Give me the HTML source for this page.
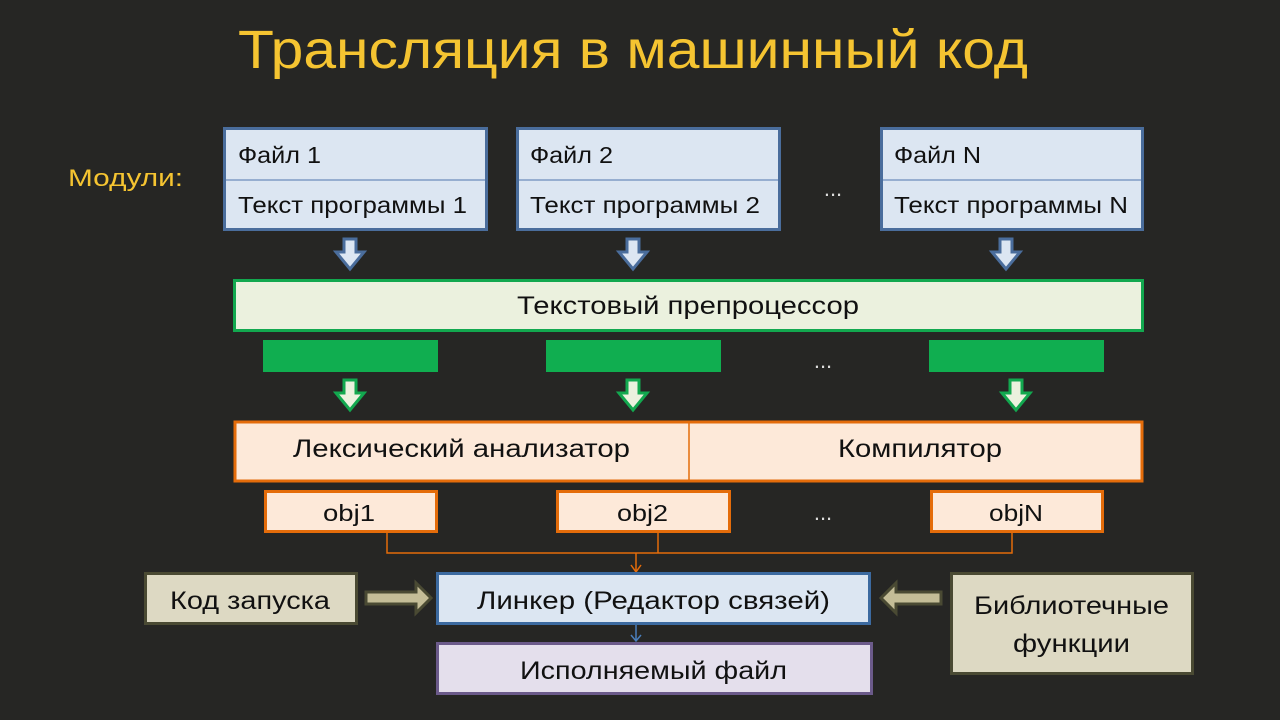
<!DOCTYPE html>
<html><head><meta charset="utf-8"><style>
html,body{margin:0;padding:0;background:#262624;}
svg{display:block;font-family:"Liberation Sans","DejaVu Sans",sans-serif;}
</style></head><body>
<svg width="1280" height="720" viewBox="0 0 1280 720" xmlns="http://www.w3.org/2000/svg">
<rect width="1280" height="720" fill="#262624"/>
<text x="238" y="68" font-size="54" fill="#f5c431" textLength="790" lengthAdjust="spacingAndGlyphs">Трансляция в машинный код</text>
<text x="68" y="186" font-size="24" fill="#f5c431" textLength="115" lengthAdjust="spacingAndGlyphs">Модули:</text>

<g stroke="#4a6d9c" stroke-width="3" fill="#dce6f2">
<rect x="224.5" y="128.5" width="262" height="101"/>
<rect x="517.5" y="128.5" width="262" height="101"/>
<rect x="881.5" y="128.5" width="261" height="101"/>
</g>
<g stroke="#7f9cc4" stroke-width="1.5">
<line x1="226" y1="180" x2="485" y2="180"/><line x1="519" y1="180" x2="778" y2="180"/><line x1="883" y1="180" x2="1141" y2="180"/>
</g>
<g font-size="23" fill="#111" lengthAdjust="spacingAndGlyphs">
<text x="238" y="163" textLength="83" lengthAdjust="spacingAndGlyphs">Файл 1</text><text x="238" y="213" textLength="229" lengthAdjust="spacingAndGlyphs">Текст программы 1</text>
<text x="530" y="163" textLength="83" lengthAdjust="spacingAndGlyphs">Файл 2</text><text x="530" y="213" textLength="230" lengthAdjust="spacingAndGlyphs">Текст программы 2</text>
<text x="894" y="163" textLength="87" lengthAdjust="spacingAndGlyphs">Файл N</text><text x="894" y="213" textLength="234" lengthAdjust="spacingAndGlyphs">Текст программы N</text>
</g>
<text x="833" y="196" font-size="22" fill="#ddd" text-anchor="middle">...</text>

<g fill="#dce6f2" stroke="#4a6d9c" stroke-width="3">
<path d="M344 239h12v13h8l-14 17-14-17h8z"/>
<path d="M627 239h12v13h8l-14 17-14-17h8z"/>
<path d="M1000 239h12v13h8l-14 17-14-17h8z"/>
</g>

<rect x="234.5" y="280.5" width="908" height="50" fill="#ebf1de" stroke="#12a84f" stroke-width="3"/>
<text x="517" y="314" font-size="25" fill="#111" textLength="342" lengthAdjust="spacingAndGlyphs">Текстовый препроцессор</text>

<g fill="#10ae50">
<rect x="263" y="340" width="175" height="32"/>
<rect x="546" y="340" width="175" height="32"/>
<rect x="929" y="340" width="175" height="32"/>
</g>
<text x="823" y="368" font-size="22" fill="#ddd" text-anchor="middle">...</text>
<g fill="#ebf1de" stroke="#12a84f" stroke-width="3">
<path d="M344 380h12v13h8l-14 17-14-17h8z"/>
<path d="M627 380h12v13h8l-14 17-14-17h8z"/>
<path d="M1010 380h12v13h8l-14 17-14-17h8z"/>
</g>

<rect x="235" y="422" width="907" height="59" fill="#fde9d9" stroke="#e46c0a" stroke-width="3"/>
<line x1="689" y1="422" x2="689" y2="481" stroke="#e46c0a" stroke-width="1.5"/>
<text x="293" y="457" font-size="25" fill="#111" textLength="337" lengthAdjust="spacingAndGlyphs">Лексический анализатор</text>
<text x="838" y="457" font-size="25" fill="#111" textLength="164" lengthAdjust="spacingAndGlyphs">Компилятор</text>

<g fill="#fde9d9" stroke="#e46c0a" stroke-width="3">
<rect x="265.5" y="491.5" width="171" height="40"/>
<rect x="557.5" y="491.5" width="172" height="40"/>
<rect x="931.5" y="491.5" width="171" height="40"/>
</g>
<g font-size="23" fill="#111">
<text x="323" y="521" textLength="52" lengthAdjust="spacingAndGlyphs">obj1</text><text x="617" y="521" textLength="51" lengthAdjust="spacingAndGlyphs">obj2</text><text x="989" y="521" textLength="54" lengthAdjust="spacingAndGlyphs">objN</text>
</g>
<text x="823" y="520" font-size="22" fill="#ddd" text-anchor="middle">...</text>

<g stroke="#e46c0a" stroke-width="1.5" fill="none">
<path d="M387 532V553H1012V532M658 532V553M636 553V571M631 565l5 7 5-7"/>
</g>

<rect x="145.5" y="573.5" width="211" height="50" fill="#ddd9c3" stroke="#4a4a33" stroke-width="3"/>
<text x="170" y="609" font-size="25" fill="#111" textLength="160" lengthAdjust="spacingAndGlyphs">Код запуска</text>
<path d="M366 592h50v-9l15 15-15 15v-9h-50z" fill="#c4bd97" stroke="#4a4a33" stroke-width="3"/>

<rect x="437.5" y="573.5" width="432" height="50" fill="#dce6f2" stroke="#3c6aa0" stroke-width="3"/>
<text x="477" y="609" font-size="25" fill="#111" textLength="353" lengthAdjust="spacingAndGlyphs">Линкер (Редактор связей)</text>

<path d="M941 592h-45v-9l-15 15 15 15v-9h45z" fill="#c4bd97" stroke="#4a4a33" stroke-width="3"/>
<rect x="951.5" y="573.5" width="241" height="100" fill="#ddd9c3" stroke="#4a4a33" stroke-width="3"/>
<text x="974" y="614" font-size="25" fill="#111" textLength="195" lengthAdjust="spacingAndGlyphs">Библиотечные</text>
<text x="1013" y="652" font-size="25" fill="#111" textLength="117" lengthAdjust="spacingAndGlyphs">функции</text>

<g stroke="#4a7ebb" stroke-width="1.5" fill="none"><path d="M636 625V641M631 635l5 6 5-6"/></g>
<rect x="437.5" y="643.5" width="434" height="50" fill="#e4dfec" stroke="#6b5a8a" stroke-width="3"/>
<text x="520" y="679" font-size="25" fill="#111" textLength="267" lengthAdjust="spacingAndGlyphs">Исполняемый файл</text>
</svg>
</body></html>
